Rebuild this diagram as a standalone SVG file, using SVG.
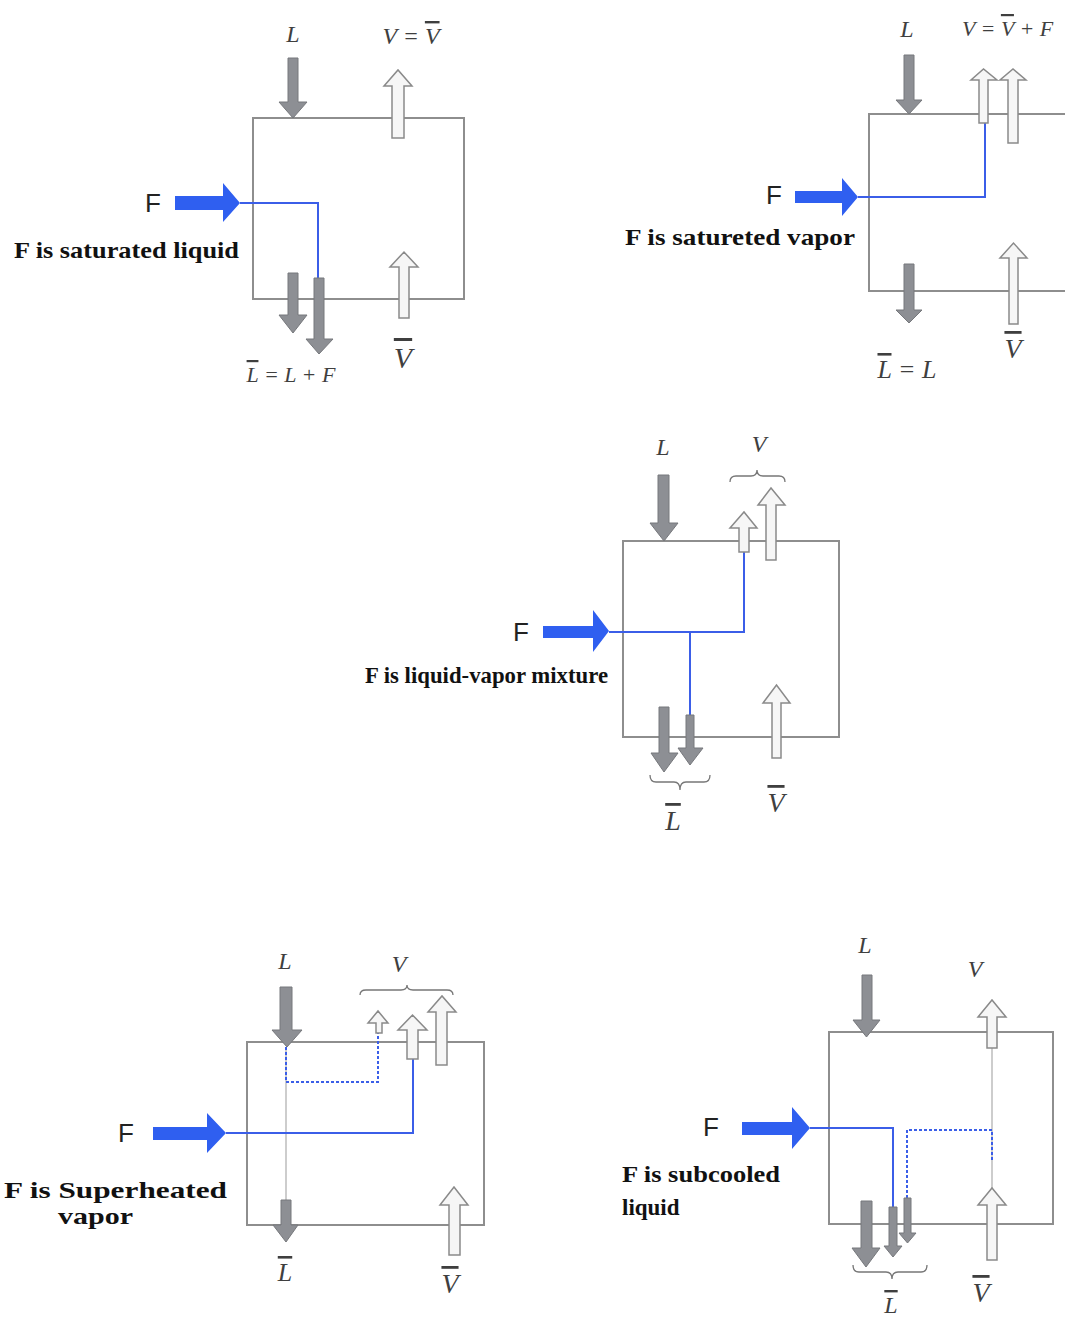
<svg xmlns="http://www.w3.org/2000/svg" width="1065" height="1318" viewBox="0 0 1065 1318">
<style>
.box{fill:none;stroke:#8e8e8e;stroke-width:2}
.liq{fill:#8d8f94;stroke:#76787c;stroke-width:1}
.vap{fill:#f6f6f6;stroke:#8a8a8a;stroke-width:1.5}
.feed{fill:#2f5ff0}
.flow{fill:none;stroke:#3b5ee8;stroke-width:2}
.dot{fill:none;stroke:#3b5ee8;stroke-width:2;stroke-dasharray:3 2}
.thin{fill:none;stroke:#bdbdbd;stroke-width:1.5}
.brace{fill:none;stroke:#777;stroke-width:1.3}
.lbl{font-family:"Liberation Serif",serif;font-style:italic;fill:#3f3f3f}
.ov{text-decoration:overline}
.fl{font-family:"Liberation Sans",Arial,sans-serif;font-size:26px;fill:#222}
.desc{font-family:"Liberation Serif",serif;font-weight:bold;font-size:23px;fill:#111}
</style>
<rect width="1065" height="1318" fill="#fff"/>

<!-- Panel 1 -->
<g id="p1">
  <g id="p1-box"><rect class="box" x="253" y="118" width="211" height="181"/></g>
  <g id="p1-connectors"><path class="flow" d="M240,203 H318 V279"/></g>
  <g id="p1-L"><polygon class="liq" points="288,58 298,58 298,102 307,102 293,118 279,102 288,102"/></g>
  <g id="p1-V"><polygon class="vap" points="392,138 404,138 404,86 412,86 398,70 384,86 392,86"/></g>
  <g id="p1-F"><polygon class="feed" points="175,196 223,196 223,183 240,203 223,222 223,210 175,210"/></g>
  <g id="p1-Lbar1"><polygon class="liq" points="288,273 298,273 298,315 307,315 293,333 279,315 288,315"/></g>
  <g id="p1-Lbar2"><polygon class="liq" points="314,278 324,278 324,339 333,339 319,354 306,339 314,339"/></g>
  <g id="p1-Vbar"><polygon class="vap" points="399,318 409,318 409,267 418,267 404,252 390,267 399,267"/></g>
  <text class="lbl" x="293" y="42" font-size="24" text-anchor="middle">L</text>
  <text class="lbl" x="411" y="44" font-size="24" text-anchor="middle">V = <tspan class="ov">V</tspan></text>
  <text class="lbl" x="291" y="382" font-size="22" text-anchor="middle"><tspan class="ov">L</tspan> = L + F</text>
  <text class="lbl" x="403" y="368" font-size="30" text-anchor="middle"><tspan class="ov">V</tspan></text>
  <text class="fl" x="145" y="212">F</text>
  <text class="desc" x="14" y="258" textLength="225" lengthAdjust="spacingAndGlyphs">F is saturated liquid</text>
</g>

<!-- Panel 2 -->
<g id="p2">
  <g id="p2-box"><rect class="box" x="869" y="114" width="210" height="177"/></g>
  <g id="p2-connectors"><path class="flow" d="M858,197 H985 V123"/></g>
  <g id="p2-L"><polygon class="liq" points="904,55 914,55 914,100 922,100 909,114 896,100 904,100"/></g>
  <g id="p2-V1"><polygon class="vap" points="979,123 988,123 988,80 997,80 983.5,69 971,80 979,80"/></g>
  <g id="p2-V2"><polygon class="vap" points="1008,143 1018,143 1018,80 1026,80 1013,69 1000,80 1008,80"/></g>
  <g id="p2-F"><polygon class="feed" points="795,191 842,191 842,178 858,197 842,216 842,203 795,203"/></g>
  <g id="p2-Lbar"><polygon class="liq" points="904,264 914,264 914,310 922,310 909,323 896,310 904,310"/></g>
  <g id="p2-Vbar"><polygon class="vap" points="1009,324 1018,324 1018,258 1027,258 1013.5,243 1000,258 1009,258"/></g>
  <text class="lbl" x="907" y="37" font-size="24" text-anchor="middle">L</text>
  <text class="lbl" x="962" y="36" font-size="22">V = <tspan class="ov">V</tspan> + F</text>
  <text class="lbl" x="1013" y="358" font-size="28" text-anchor="middle"><tspan class="ov">V</tspan></text>
  <text class="lbl" x="907" y="378" font-size="26" text-anchor="middle"><tspan class="ov">L</tspan> = L</text>
  <text class="fl" x="766" y="204">F</text>
  <text class="desc" x="625" y="245" textLength="230" lengthAdjust="spacingAndGlyphs">F is satureted vapor</text>
</g>

<!-- Panel 3 -->
<g id="p3">
  <g id="p3-box"><rect class="box" x="623" y="541" width="216" height="196"/></g>
  <g id="p3-connectors">
    <path class="flow" d="M609,632 H744 V552"/>
    <path class="flow" d="M690,632 V715"/>
    <path class="brace" d="M730,482 Q730,476 736,476 H751 Q757,476 757,470 Q757,476 763,476 H779 Q785,476 785,482"/>
    <path class="brace" d="M650,775 Q650,782 656,782 H674 Q680,782 680,790 Q680,782 686,782 H704 Q710,782 710,775"/>
  </g>
  <g id="p3-L"><polygon class="liq" points="658,475 669,475 669,523 678,523 664,541 650,523 658,523"/></g>
  <g id="p3-V1"><polygon class="vap" points="739,552 749,552 749,528 757,528 744,512 730,528 739,528"/></g>
  <g id="p3-V2"><polygon class="vap" points="766,560 776,560 776,505 785,505 771,488 758,505 766,505"/></g>
  <g id="p3-F"><polygon class="feed" points="543,626 593,626 593,610 609,631 593,652 593,638 543,638"/></g>
  <g id="p3-Lbar1"><polygon class="liq" points="659,707 669,707 669,753 678,753 664,772 651,753 659,753"/></g>
  <g id="p3-Lbar2"><polygon class="liq" points="686,715 694,715 694,748 703,748 690,765 678,748 686,748"/></g>
  <g id="p3-Vbar"><polygon class="vap" points="772,758 781,758 781,703 790,703 776.5,685 763,703 772,703"/></g>
  <text class="lbl" x="663" y="455" font-size="24" text-anchor="middle">L</text>
  <text class="lbl" x="759" y="452" font-size="24" text-anchor="middle">V</text>
  <text class="lbl" x="673" y="830" font-size="28" text-anchor="middle"><tspan class="ov">L</tspan></text>
  <text class="lbl" x="776" y="812" font-size="28" text-anchor="middle"><tspan class="ov">V</tspan></text>
  <text class="fl" x="513" y="641">F</text>
  <text class="desc" x="365" y="683" textLength="243" lengthAdjust="spacingAndGlyphs">F is liquid-vapor mixture</text>
</g>

<!-- Panel 4 -->
<g id="p4">
  <g id="p4-box"><rect class="box" x="247" y="1042" width="237" height="183"/></g>
  <g id="p4-connectors">
    <path class="thin" d="M286,1047 V1200"/>
    <path class="dot" d="M286,1047 V1082 H378 V1033"/>
    <path class="flow" d="M226,1133 H413 V1059"/>
    <path class="brace" d="M360,995 Q360,990 366,990 H401 Q407,990 407,985 Q407,990 413,990 H447 Q453,990 453,995"/>
  </g>
  <g id="p4-L"><polygon class="liq" points="280,987 292,987 292,1030 302,1030 287,1047 272,1030 280,1030"/></g>
  <g id="p4-V1"><polygon class="vap" points="376,1033 382,1033 382,1023 388,1023 378,1011 368,1023 376,1023"/></g>
  <g id="p4-V2"><polygon class="vap" points="407,1059 418,1059 418,1030 427,1030 412.5,1015 398,1030 407,1030"/></g>
  <g id="p4-V3"><polygon class="vap" points="436,1065 447,1065 447,1012 456,1012 442,996 428,1012 436,1012"/></g>
  <g id="p4-F"><polygon class="feed" points="153,1127 207,1127 207,1113 226,1133 207,1153 207,1140 153,1140"/></g>
  <g id="p4-Lbar"><polygon class="liq" points="281,1200 291,1200 291,1225 298,1225 286,1242 273,1225 281,1225"/></g>
  <g id="p4-Vbar"><polygon class="vap" points="449,1255 460,1255 460,1205 468,1205 454,1187 440,1205 449,1205"/></g>
  <text class="lbl" x="285" y="969" font-size="24" text-anchor="middle">L</text>
  <text class="lbl" x="399" y="972" font-size="24" text-anchor="middle">V</text>
  <text class="lbl" x="285" y="1281" font-size="26" text-anchor="middle"><tspan class="ov">L</tspan></text>
  <text class="lbl" x="450" y="1293" font-size="28" text-anchor="middle"><tspan class="ov">V</tspan></text>
  <text class="fl" x="118" y="1142">F</text>
  <text class="desc" x="4" y="1198" font-size="24" textLength="223" lengthAdjust="spacingAndGlyphs">F is Superheated</text>
  <text class="desc" x="58" y="1224" font-size="24" textLength="75" lengthAdjust="spacingAndGlyphs">vapor</text>
</g>

<!-- Panel 5 -->
<g id="p5">
  <g id="p5-box"><rect class="box" x="829" y="1032" width="224" height="192"/></g>
  <g id="p5-connectors">
    <path class="thin" d="M992,1048 V1188"/>
    <path class="flow" d="M810,1128 H893 V1208"/>
    <path class="dot" d="M992,1160 V1130 H907 V1198"/>
    <path class="brace" d="M853,1265 Q853,1272 859,1272 H886 Q892,1272 892,1279 Q892,1272 898,1272 H921 Q927,1272 927,1265"/>
  </g>
  <g id="p5-L"><polygon class="liq" points="862,975 872,975 872,1020 880,1020 866.5,1037 853,1020 862,1020"/></g>
  <g id="p5-V"><polygon class="vap" points="987,1048 997,1048 997,1017 1006,1017 992,1000 978,1017 987,1017"/></g>
  <g id="p5-F"><polygon class="feed" points="742,1122 792,1122 792,1107 810,1128 792,1149 792,1135 742,1135"/></g>
  <g id="p5-Lbar1"><polygon class="liq" points="861,1201 872,1201 872,1248 880,1248 866,1267 852,1248 861,1248"/></g>
  <g id="p5-Lbar2"><polygon class="liq" points="889,1207 897,1207 897,1246 902,1246 893,1257 884,1246 889,1246"/></g>
  <g id="p5-Lbar3"><polygon class="liq" points="904,1198 911,1198 911,1233 916,1233 907.5,1243 899,1233 904,1233"/></g>
  <g id="p5-Vbar"><polygon class="vap" points="987,1260 997,1260 997,1205 1006,1205 992,1188 978,1205 987,1205"/></g>
  <text class="lbl" x="865" y="953" font-size="24" text-anchor="middle">L</text>
  <text class="lbl" x="975" y="977" font-size="24" text-anchor="middle">V</text>
  <text class="lbl" x="891" y="1313" font-size="24" text-anchor="middle"><tspan class="ov">L</tspan></text>
  <text class="lbl" x="981" y="1302" font-size="28" text-anchor="middle"><tspan class="ov">V</tspan></text>
  <text class="fl" x="703" y="1136">F</text>
  <text class="desc" x="622" y="1182" textLength="158" lengthAdjust="spacingAndGlyphs">F is subcooled</text>
  <text class="desc" x="622" y="1215">liquid</text>
</g>
</svg>
